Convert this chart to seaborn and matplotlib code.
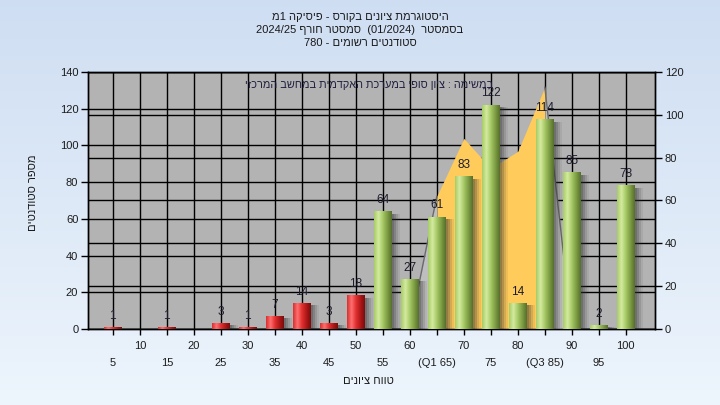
import re
import numpy as np
import pandas as pd
import matplotlib
matplotlib.use('Agg')
import matplotlib.pyplot as plt
import seaborn as sns
from matplotlib import transforms
from matplotlib.patches import Rectangle
from matplotlib.colors import LinearSegmentedColormap

# data
grades = [5, 10, 15, 20, 25, 30, 35, 40, 45, 50, 55, 60, 65, 70, 75, 80, 85, 90, 95, 100]
counts = [1, 0, 1, 0, 3, 1, 7, 14, 3, 18, 64, 27, 61, 83, 122, 14, 114, 85, 2, 78]
tick_labels = ['5', '10', '15', '20', '25', '30', '35', '40', '45', '50', '55', '60',
               '(Q1 65)', '70', '75', '80', '(Q3 85)', '90', '95', '100']
left_ticks = [0, 20, 40, 60, 80, 100, 120, 140]
right_ticks = [0, 20, 40, 60, 80, 100, 120]

# area series on the right axis
area_grades = [60, 65, 70, 75, 80, 85, 90]
area_values = [0, 62, 89, 75, 83, 113, 0]

title_lines = ['היסטוגרמת ציונים בקורס - פיסיקה 1מ',
               'בסמסטר  (01/2024)  סמסטר חורף 2024/25',
               'סטודנטים רשומים - 780']
note = 'במשימה : ציון סופי במערכת האקדמית במחשב המרכזי'
y_title = 'מספר סטודנטים'
x_title = 'טווח ציונים'


def rtl(s):
    # crude visual ordering for right-to-left text (matplotlib has no bidi)
    runs = re.findall(r'[0-9A-Za-z]+(?:[/.][0-9A-Za-z]+)*|.', s)
    mirror = {'(': ')', ')': '('}
    return ''.join(mirror.get(r, r) for r in reversed(runs))


sns.set_theme(style='white')
plt.rcParams['font.family'] = ['Liberation Sans', 'DejaVu Sans']

fig = plt.figure(figsize=(7.2, 4.05), dpi=100)

# light blue gradient background
bg = fig.add_axes([0, 0, 1, 1], zorder=-10)
top = np.array([0.81, 0.87, 0.95])
bottom = np.array([0.93, 0.96, 0.99])
t = np.linspace(0, 1, 200)[:, None]
bg.imshow((top * (1 - t) + bottom * t)[:, None, :], aspect='auto', extent=[0, 1, 0, 1])
bg.axis('off')

ax = fig.add_axes([0.1222, 0.1877, 0.7875, 0.6345])
ax2 = ax.twinx()
ax.set_zorder(2)
ax2.set_zorder(1)
ax.patch.set_visible(False)
ax2.patch.set_visible(True)
ax2.patch.set_facecolor('#b3b3b3')

df = pd.DataFrame({'grade': grades, 'count': counts,
                   'status': ['fail' if g < 55 else 'pass' for g in grades]})
sns.barplot(data=df, x='grade', y='count', hue='status',
            palette={'fail': '#e03030', 'pass': '#9cc45a'},
            native_scale=True, width=0.66, dodge=False, legend=False,
            linewidth=0, ax=ax, zorder=3)

# cylinder shading + drop shadow on every bar
red_cmap = LinearSegmentedColormap.from_list('r', ['#d83030', '#ff7070', '#e23030', '#b01818', '#7a0c0c'])
green_cmap = LinearSegmentedColormap.from_list('g', ['#a8cc68', '#d4eba0', '#a6c864', '#7d9c44', '#56702c'])
grad = np.linspace(0, 1, 64)[None, :]
for p in list(ax.patches):
    h = p.get_height()
    if h <= 0:
        continue
    x0 = p.get_x()
    w = p.get_width()
    for dx, a in [(2, 0.22), (4, 0.2), (6, 0.14), (8, 0.08)]:
        off = transforms.offset_copy(ax.transData, fig=fig, x=dx, y=-2, units='dots')
        ax.add_patch(Rectangle((x0, 0), w, h, facecolor='#303030', alpha=a,
                               linewidth=0, transform=off, zorder=2.5))
    cmap = red_cmap if x0 + w / 2 < 55 else green_cmap
    ax.imshow(grad, cmap=cmap, aspect='auto', extent=[x0, x0 + w, 0, h], zorder=3.2)

# area series, drawn with the right axis scale
ax.fill_between(area_grades[1:-1], area_values[1:-1], color='#ffcb5a', linewidth=0,
                transform=ax2.transData, zorder=1)
for seg in [slice(0, 2), slice(-2, None)]:
    ax.fill_between(area_grades[seg], area_values[seg], color='#bebebe', linewidth=0,
                    transform=ax2.transData, zorder=1)
    ax.plot(area_grades[seg], area_values[seg], color='#6a6a6a', lw=1,
            transform=ax2.transData, zorder=1.1)

# value labels
for g, c in zip(grades, counts):
    if c > 0:
        ax.annotate(str(c), (g, c), xytext=(0, 4), textcoords='offset points',
                    ha='center', va='bottom', fontsize=8.5, color='#1c1c2c', zorder=6)

ax.set_xlim(0.4, 105.4)
ax.set_ylim(0, 140)
ax2.set_ylim(0, 120)
ax.set_yticks(left_ticks)
ax2.set_yticks(right_ticks)
ax.set_xticks(grades, labels=tick_labels)
ax.set_xlabel('')
ax.set_ylabel('')

ax.set_axisbelow(True)
ax2.set_axisbelow(True)
ax.grid(True, color='black', lw=1)
ax2.grid(True, axis='y', color='black', lw=1)
ax2.grid(False, axis='x')

for a in (ax, ax2):
    for s in a.spines.values():
        s.set_color('black')
        s.set_linewidth(1)
ax.tick_params(axis='y', left=True, direction='out', length=5, width=1, color='black',
               labelsize=8, pad=2, labelcolor='#1c1c1c')
ax.tick_params(axis='x', bottom=True, direction='out', length=4, width=1, color='black',
               labelsize=8, labelcolor='#1c1c1c')
ax2.tick_params(axis='y', right=True, direction='out', length=5, width=1, color='black',
                labelsize=8, pad=2, labelcolor='#1c1c1c')
for i, tk in enumerate(ax.xaxis.get_major_ticks()):
    tk.set_pad(17 if i % 2 == 0 else 5)

ax.text(0.496, 0.949, rtl(note), transform=ax.transAxes, ha='center', va='center',
        fontsize=7.8, color='#202040', zorder=7)

for i, line in enumerate(title_lines):
    fig.text(0.5, 1 - (17 + 13 * i) / 405, rtl(line), ha='center', va='center',
             fontsize=8, color='#1a1a1a')
fig.text(33 / 720, 1 - 193 / 405, rtl(y_title), rotation=90, ha='center', va='center',
         fontsize=8, color='#1a1a1a')
fig.text(368 / 720, 1 - 381 / 405, rtl(x_title), ha='center', va='center',
         fontsize=8, color='#1a1a1a')

fig.savefig('out.png', dpi=100)
